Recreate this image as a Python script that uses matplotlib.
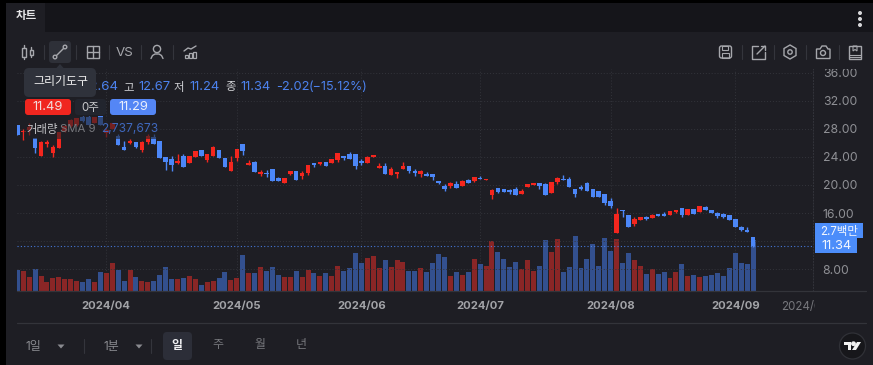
import matplotlib
matplotlib.use('Agg')

import matplotlib.pyplot as plt
from matplotlib.patches import Rectangle, FancyBboxPatch, Circle, Polygon

W, H = 873, 365
BG = '#1e1e24'
RED = '#f4261e'
BLUE = '#4c87f8'
VOL_RED = '#8a2626'
VOL_BLUE = '#33508f'
GRID = '#33343b'
ICON = '#a6a7ac'
FONT = ['Inter', 'Noto Sans CJK KR', 'DejaVu Sans']

opens = [28.53, 27.60, 27.80, 26.73, 24.16, 25.79, 24.59, 25.30, 27.68, 28.39, 28.53, 29.67, 29.71, 28.86, 29.81, 27.40, 27.96, 26.99, 25.36, 25.97,
         26.11, 24.98, 26.16, 26.87, 26.26, 23.94, 23.65, 23.09, 24.12, 23.17, 24.02, 24.98, 23.55, 24.12, 24.98, 23.80, 22.03, 23.80, 25.79, 22.84,
         23.23, 21.52, 21.75, 22.23, 21.04, 20.24, 21.52, 21.94, 21.28, 21.66, 23.08, 22.98, 23.31, 23.08, 23.55, 24.17, 24.41, 24.41, 23.37, 23.17,
         23.98, 22.42, 22.74, 21.42, 21.56, 22.27, 22.74, 22.03, 21.56, 21.56, 21.56, 20.61, 19.90, 19.90, 20.14, 19.90, 20.67, 20.61, 21.00, 20.67,
         18.58, 19.53, 19.43, 19.24, 19.43, 18.72, 19.76, 20.00, 20.28, 20.14, 18.90, 20.38, 20.85, 20.90, 19.47, 19.76, 20.28, 19.38, 19.10, 18.72,
         17.72, 13.20, 16.48, 15.69, 14.45, 15.02, 15.45, 15.30, 15.92, 15.87, 15.77, 16.16, 16.72, 15.73, 16.58, 16.16, 16.87, 16.44, 16.00, 15.87,
         15.69, 15.16, 14.02, 13.64, 12.64]
highs = [28.53, 28.00, 28.80, 26.73, 26.30, 26.40, 25.69, 27.58, 28.60, 29.40, 29.60, 29.80, 29.80, 29.67, 29.81, 28.10, 28.82, 27.25, 26.26, 26.50,
         26.11, 26.20, 27.20, 27.20, 26.30, 23.94, 24.12, 24.41, 24.40, 24.12, 24.83, 24.98, 24.41, 25.55, 24.98, 23.80, 24.12, 25.12, 25.79, 23.55,
         23.40, 22.13, 22.13, 22.23, 21.20, 21.04, 22.03, 21.94, 21.99, 22.84, 23.08, 23.31, 23.31, 23.70, 24.51, 24.17, 24.73, 24.41, 23.65, 24.10,
         24.26, 23.08, 23.17, 22.52, 21.85, 23.31, 22.74, 22.27, 22.20, 21.89, 21.56, 20.61, 20.14, 20.40, 20.53, 20.75, 20.80, 21.09, 21.25, 20.85,
         19.40, 19.53, 19.43, 19.43, 19.71, 19.43, 20.14, 20.28, 20.28, 20.30, 20.38, 21.20, 21.42, 21.10, 19.47, 20.00, 20.40, 19.38, 19.10, 18.72,
         18.10, 16.68, 16.48, 15.69, 15.40, 15.45, 15.66, 15.85, 15.92, 16.15, 16.30, 16.44, 16.72, 16.58, 16.58, 16.97, 16.95, 16.44, 16.16, 16.00,
         15.69, 15.16, 14.16, 14.02, 12.67]
lows = [27.11, 26.40, 27.10, 24.59, 24.16, 25.45, 23.94, 25.30, 27.50, 28.20, 28.40, 29.00, 28.53, 28.86, 28.53, 26.80, 27.96, 25.69, 25.02, 25.79,
        25.27, 24.73, 25.90, 25.83, 23.80, 22.13, 22.03, 22.94, 22.60, 23.17, 24.02, 24.12, 23.31, 24.12, 23.88, 22.60, 22.03, 23.45, 24.27, 22.84,
        21.89, 21.32, 21.18, 20.61, 20.53, 20.24, 21.40, 20.71, 20.85, 21.42, 22.60, 22.80, 22.70, 23.08, 23.31, 23.60, 23.70, 22.27, 22.80, 23.17,
        23.98, 22.42, 21.56, 21.42, 21.04, 22.27, 21.70, 21.32, 21.18, 21.32, 20.67, 20.07, 19.14, 19.61, 19.61, 19.90, 20.28, 20.47, 20.85, 20.67,
        18.05, 18.80, 19.00, 18.72, 18.58, 18.72, 19.76, 20.00, 19.38, 18.58, 18.90, 20.20, 20.67, 19.76, 18.33, 19.24, 19.14, 18.33, 18.33, 17.15,
        16.68, 13.20, 15.49, 13.98, 14.20, 15.02, 15.00, 15.30, 15.55, 15.58, 15.77, 16.00, 15.40, 15.73, 15.87, 16.16, 16.44, 16.00, 15.35, 15.30,
        15.02, 13.98, 13.45, 13.36, 11.24]
closes = [27.11, 27.72, 28.30, 25.30, 26.07, 26.16, 25.45, 27.58, 28.39, 29.24, 29.53, 29.10, 28.53, 29.67, 28.53, 27.80, 28.82, 25.69, 25.02, 26.26,
          25.45, 26.11, 26.99, 25.83, 23.80, 23.31, 22.84, 23.46, 22.60, 24.12, 24.83, 24.12, 24.41, 25.36, 23.88, 22.60, 23.31, 25.12, 24.83, 23.08,
          21.89, 21.89, 21.52, 20.61, 20.53, 21.04, 22.03, 20.71, 21.70, 22.84, 22.84, 23.31, 22.70, 23.70, 24.51, 23.84, 23.70, 22.70, 23.08, 23.98,
          24.26, 22.70, 21.56, 22.32, 21.85, 22.70, 21.99, 21.75, 22.03, 21.32, 21.13, 20.24, 19.39, 20.28, 19.61, 20.53, 20.28, 21.09, 20.85, 20.85,
          19.28, 18.96, 19.00, 19.00, 18.58, 19.14, 20.14, 20.28, 19.86, 18.58, 20.38, 21.04, 20.67, 19.76, 18.72, 19.47, 19.14, 18.33, 18.33, 17.44,
          16.97, 15.87, 16.34, 13.98, 15.16, 15.45, 15.16, 15.69, 15.55, 15.58, 16.30, 16.44, 15.73, 16.58, 15.87, 16.97, 16.44, 16.00, 15.55, 15.40,
          15.02, 13.98, 13.60, 13.36, 11.34]
# volume in millions
volumes = [1.13, 1.08, 0.73, 1.18, 0.79, 0.48, 0.68, 0.73, 0.63, 0.63, 0.54, 0.48, 0.63, 0.48, 1.02, 0.97, 1.51, 1.13, 0.54, 1.13,
           0.73, 0.54, 0.48, 0.54, 0.86, 1.27, 0.63, 0.63, 0.70, 0.79, 0.63, 0.32, 0.48, 0.54, 0.70, 1.02, 0.57, 0.70, 1.94, 0.97,
           0.97, 1.31, 1.08, 1.29, 0.86, 0.73, 0.73, 1.08, 0.73, 1.13, 0.97, 0.79, 0.97, 0.82, 1.34, 1.08, 1.22, 2.04, 1.51, 1.79,
           1.88, 1.24, 1.67, 1.29, 1.67, 1.56, 1.08, 1.08, 1.24, 1.02, 1.51, 1.99, 1.83, 0.82, 1.02, 0.86, 1.02, 1.70, 1.45, 1.34,
           2.67, 2.10, 1.70, 1.29, 1.56, 1.16, 1.65, 1.08, 1.34, 2.76, 2.10, 2.80, 1.02, 1.31, 2.96, 1.25, 1.70, 2.53, 1.34, 2.85,
           2.15, 2.80, 1.51, 2.04, 1.65, 1.34, 0.91, 1.16, 0.91, 1.02, 0.68, 1.02, 1.45, 0.81, 0.86, 0.73, 0.81, 0.86, 0.97, 0.81,
           1.22, 2.04, 1.51, 1.45, 2.74]

month_pos = [15, 37, 58, 78, 100, 121]
month_labels = ['2024/04', '2024/05', '2024/06', '2024/07', '2024/08', '2024/09']
price_ticks = [8, 12, 16, 20, 24, 28, 32, 36]
price_labels = ['8.00', '', '16.00', '20.00', '24.00', '28.00', '32.00', '36.00']


def box(x0, y0, x1, y1):
    return [x0 / W, 1 - y1 / H, (x1 - x0) / W, (y1 - y0) / H]


fig = plt.figure(figsize=(W / 100, H / 100), dpi=100, facecolor=BG)

# volume panel sits under the candles, same pixel box
vol_ax = fig.add_axes(box(17, 69, 813, 291), facecolor=BG)
ax = fig.add_axes(box(17, 69, 813, 291), facecolor='none')
xs = list(range(len(closes)))

vol_ax.bar(xs, volumes, width=0.84, color=[VOL_RED if c >= o else VOL_BLUE for o, c in zip(opens, closes)], linewidth=0)
vol_ax.set_xlim(-0.05, 134.1)
vol_ax.set_ylim(0, 11.94)
vol_ax.set_xticks(month_pos)
vol_ax.set_xticklabels([])
vol_ax.set_yticks([])
vol_ax.tick_params(length=0)
vol_ax.grid(axis='x', color=GRID, linestyle=(0, (1, 2)), linewidth=0.7)
vol_ax.set_axisbelow(True)
for s in vol_ax.spines.values():
    s.set_visible(False)

for x, o, h, l, c in zip(xs, opens, highs, lows, closes):
    col = RED if c >= o else BLUE
    ax.vlines(x, l, h, color=col, linewidth=1, zorder=3)
    ax.bar(x, max(abs(c - o), 0.1), bottom=min(o, c), width=0.78, color=col, linewidth=0, zorder=4)

ax.axhline(closes[-1], color=BLUE, linestyle=(0, (1, 2)), linewidth=0.8, alpha=0.85, zorder=2)
ax.set_xlim(-0.05, 134.1)
ax.set_ylim(4.92, 36.5)
ax.yaxis.tick_right()
ax.set_yticks(price_ticks)
ax.set_yticklabels(price_labels, color='#8f9095', fontsize=8.8, family=FONT)
ax.set_xticks(month_pos)
ax.set_xticklabels(month_labels, color='#a2a3a7', fontsize=8.1, family=FONT, fontweight='bold')
ax.set_xticks([132.8], minor=True)
ax.set_xticklabels(['2024/09'], minor=True, color='#77787d', fontsize=8.3, family=FONT)
ax.tick_params(axis='both', which='both', length=0)
ax.tick_params(axis='x', which='both', pad=7.5)
ax.tick_params(axis='y', pad=7)
ax.grid(axis='y', color=GRID, linestyle=(0, (1, 2)), linewidth=0.7, zorder=0)
ax.set_axisbelow(True)
for name, s in ax.spines.items():
    s.set_visible(name == 'right')
ax.spines['right'].set_color(GRID)
ax.spines['right'].set_linestyle((0, (1, 2)))
ax.spines['right'].set_linewidth(0.7)

# everything around the chart is drawn in pixel coordinates
ov = fig.add_axes([0, 0, 1, 1], facecolor='none')
ov.set_xlim(0, W)
ov.set_ylim(H, 0)
ov.axis('off')


def rect(x0, y0, x1, y1, color, **kw):
    ov.add_patch(Rectangle((x0, y0), x1 - x0, y1 - y0, facecolor=color, edgecolor='none', **kw))


def rbox(x0, y0, x1, y1, color, r=3, **kw):
    ov.add_patch(FancyBboxPatch((x0 + r, y0 + r), x1 - x0 - 2 * r, y1 - y0 - 2 * r, boxstyle=f'round,pad={r},rounding_size={r}',
                                facecolor=color, edgecolor='none', **kw))


def label(x, y, s, color='#d8d9dc', size=8.3, ha='center', weight='normal', **kw):
    ov.text(x, y, s, color=color, fontsize=size, ha=ha, va='center', family=FONT, fontweight=weight, **kw)


def line(xs_, ys_, color=ICON, lw=1, **kw):
    ov.plot(xs_, ys_, color=color, linewidth=lw, solid_capstyle='round', **kw)


# frame and tab bar
rect(0, 0, W, 3, '#000000')
rect(0, 0, 6, H, '#000000')
rect(6, 3, W, 32, '#15151a')
rect(6, 3, 45, 32, BG)
label(26, 16.5, '차트', color='#e6e6e8', size=8.3, weight='bold')
for y in [13, 19, 25]:
    ov.add_patch(Circle((860, y), 1.3, color='#d8d8da'))

# cover the top of the 36.00 label and the tail of the last date
rect(815, 58, 873, 69, BG)
rect(815, 296, 873, 315, BG)

# left toolbar
rbox(49, 41, 71, 63, '#2e3038', r=3)
for x in [44, 76, 109, 141, 173]:
    line([x, x], [45, 59], color='#34353c', lw=0.8)
ov.add_patch(Rectangle((22, 48), 3.5, 9, facecolor='none', edgecolor=ICON, lw=1))
line([23.7, 23.7], [45, 48]); line([23.7, 23.7], [57, 59])
ov.add_patch(Rectangle((29.5, 49.5), 3.5, 5, facecolor='none', edgecolor=ICON, lw=1))
line([31.2, 31.2], [47, 49.5]); line([31.2, 31.2], [54.5, 57])
line([56, 64], [56, 48])
ov.add_patch(Circle((55, 57), 1.8, facecolor='#2e3038', edgecolor=ICON, lw=1, zorder=5))
ov.add_patch(Circle((65, 47), 1.8, facecolor='#2e3038', edgecolor=ICON, lw=1, zorder=5))
ov.add_patch(Rectangle((87, 46), 12, 12, facecolor='none', edgecolor=ICON, lw=1))
line([93, 93], [46, 58]); line([87, 99], [52, 52])
label(125, 52.5, 'VS', color=ICON, size=9.6)
ov.add_patch(Circle((157, 49), 3.6, facecolor='none', edgecolor=ICON, lw=1))
line([151, 152.5, 155, 159, 161.5, 163], [58.5, 55.5, 54, 54, 55.5, 58.5])
for x, top in [(185, 55), (189, 53), (193, 52)]:
    ov.add_patch(Rectangle((x, top), 3, 58 - top, facecolor='none', edgecolor=ICON, lw=0.9))
line([184, 188, 191, 196], [51, 48, 49, 46])

# right toolbar
for x in [742, 774, 806, 839]:
    line([x, x], [45, 59], color='#34353c', lw=0.8)
ov.add_patch(FancyBboxPatch((720, 46.5), 11, 11, boxstyle='round,pad=0.5,rounding_size=2', facecolor='none', edgecolor=ICON, lw=1))
ov.add_patch(Rectangle((722, 46), 6, 3.5, facecolor='none', edgecolor=ICON, lw=0.8))
ov.add_patch(Rectangle((722, 53), 7, 5, facecolor='none', edgecolor=ICON, lw=0.8))
line([758, 751.5, 751.5, 764.5, 764.5], [46, 46, 58.5, 58.5, 52])
line([757, 765], [54, 46]); line([761, 765, 765], [46, 46, 50])
ov.add_patch(Polygon([(790, 45), (796, 48.5), (796, 55.5), (790, 59), (784, 55.5), (784, 48.5)], closed=True, facecolor='none', edgecolor=ICON, lw=1))
ov.add_patch(Circle((790, 52), 2.2, facecolor='none', edgecolor=ICON, lw=1))
ov.add_patch(Polygon([(816.5, 58.5), (816.5, 49), (820, 49), (822, 46), (826, 46), (828, 49), (830, 49), (830, 58.5)], closed=True, facecolor='none', edgecolor=ICON, lw=1))
ov.add_patch(Circle((823, 53), 2.5, facecolor='none', edgecolor=ICON, lw=1))
ov.add_patch(Rectangle((849, 46), 12, 12.5, facecolor='none', edgecolor=ICON, lw=1))
line([849, 861], [54.5, 54.5], lw=0.8); line([849, 861], [56.5, 56.5], lw=0.8)
ov.add_patch(Polygon([(853, 46), (853, 51), (855, 49.5), (857, 51), (857, 46)], closed=True, facecolor='none', edgecolor=ICON, lw=0.8))

# legend block, the veil dims the candles running under it
rect(24, 117, 160, 139, BG, alpha=0.6)
legend_blue = '#4c82ee'
label(118, 86.5, '12.64', color=legend_blue, ha='right', size=9.6)
label(123, 87, '고', color='#cfd0d3', ha='left', size=8.2)
label(138, 86.5, '12.67', color=legend_blue, ha='left', size=9.3)
label(174, 87, '저', color='#cfd0d3', ha='left', size=8.2)
label(189, 86.5, '11.24', color=legend_blue, ha='left', size=9.3)
label(225, 87, '종', color='#cfd0d3', ha='left', size=8.2)
label(240, 86.5, '11.34', color=legend_blue, ha='left', size=9.3)
label(276, 86.5, '-2.02', color=legend_blue, ha='left', size=9.3)
label(309, 86.5, '(−15.12%)', color=legend_blue, ha='left', size=9.0)

rbox(25, 99, 71, 115, '#f0261f', r=3)
label(48, 107.5, '11.49', color='#f2dcdc', size=9.3)
rbox(75, 99, 106, 115, '#22252e', r=3)
label(90.5, 107.5, '0주', color='#c9cacd', size=8.3)
rbox(110, 99, 156, 115, '#5486f5', r=3)
label(133, 107.5, '11.29', color='#e8eefc', size=9.3)

label(26, 129.5, '거래량', color='#c4c5c8', ha='left', size=8.2)
label(60, 129.5, 'SMA 9', color='#77787d', ha='left', size=8.2)
label(101, 129.5, '2,737,673', color='#3f68bd', ha='left', size=8.6)

# tooltip
ov.add_patch(Polygon([(56, 68.5), (60, 64), (64, 68.5)], closed=True, facecolor='#2f323b', edgecolor='none', zorder=6))
rbox(24, 68, 96, 97, '#2f323b', r=5, zorder=6)
label(60.5, 82, '그리기도구', color='#eeeeee', size=8.6, zorder=7)

# last value tags
rect(815, 223, 863, 238, '#4c8dfa')
label(839, 231.5, '2.7백만', color='#f2f6fe', size=8.3)
rect(815, 238, 857, 253, '#4c8dfa')
label(837, 246, '11.34', color='#f2f6fe', size=9.3)

# axis and footer lines
line([17, 866], [291, 291], color='#33343a', lw=0.9)
line([17, 866], [323, 323], color='#33343a', lw=0.9)

# footer
label(33, 347, '1일', color='#8a8b90', size=8.6)
label(111, 347, '1분', color='#8a8b90', size=8.6)
for x in [61, 139]:
    ov.add_patch(Polygon([(x - 3.5, 344.5), (x + 3.5, 344.5), (x, 348.5)], closed=True, facecolor='#8a8b90', edgecolor='none'))
for x in [84, 151]:
    line([x, x], [339, 353], color='#34353c', lw=0.8)
rbox(163, 332, 192, 360, '#2c2e38', r=4)
label(177, 346, '일', color='#f0f0f2', size=8.6, weight='bold')
label(218, 345, '주', color='#76777c', size=8.6)
label(260, 345, '월', color='#76777c', size=8.6)
label(301, 345, '년', color='#76777c', size=8.6)

ov.add_patch(Circle((852.5, 346), 13, facecolor='#17171b', edgecolor='#303137', lw=0.9))
ov.add_patch(Polygon([(844, 342), (851, 342), (851, 350), (847.5, 350), (847.5, 345), (844, 345)], closed=True, facecolor='#f2f2f2', edgecolor='none'))
ov.add_patch(Circle((853.5, 343.7), 1.7, color='#f2f2f2'))
ov.add_patch(Polygon([(857, 342), (861, 342), (856, 350), (852, 350)], closed=True, facecolor='#f2f2f2', edgecolor='none'))

fig.savefig('out.png', dpi=100, facecolor=fig.get_facecolor())
plt.close(fig)
